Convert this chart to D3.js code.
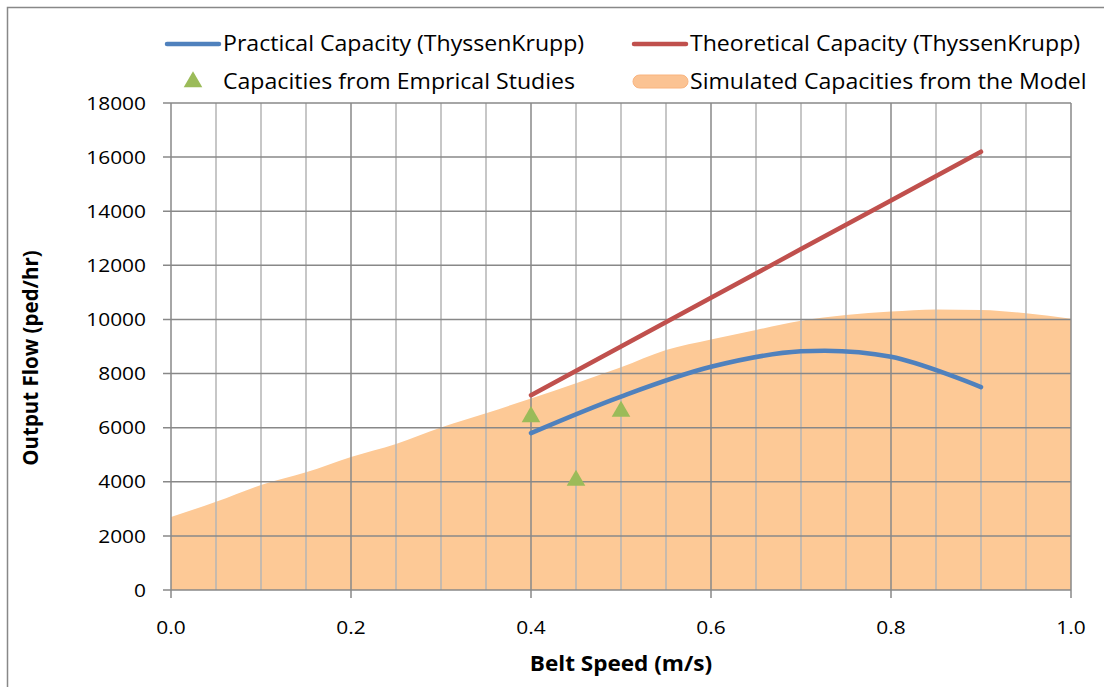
<!DOCTYPE html>
<html><head><meta charset="utf-8">
<script src="https://cdn.jsdelivr.net/npm/d3@7"></script>
<style>body{margin:0;background:#fff}svg{display:block}text{font-family:"Open Sans",sans-serif;fill:#000}</style>
</head><body><svg id="c" width="1104" height="687"></svg>
<script>
const simSpeeds = [0,0.05,0.1,0.15,0.2,0.25,0.3,0.35,0.4,0.45,0.5,0.55,0.6,0.65,0.7,0.75,0.8,0.85,0.9,0.95,1.0];
const simFlow = [2700,3260,3880,4350,4920,5400,6010,6530,7080,7640,8230,8870,9260,9610,9950,10160,10290,10370,10350,10230,10030];
const practSpeeds = [0.4,0.5,0.6,0.7,0.8,0.9];
const practFlow = [5800,7150,8250,8820,8620,7500];
const theorSpeeds = [0.4,0.5,0.6,0.7,0.8,0.9];
const theorFlow = [7200,9000,10800,12600,14400,16200];
const empSpeeds = [0.4,0.45,0.5];
const empFlow = [6400,4050,6600];
const xTicks = [0,0.2,0.4,0.6,0.8,1.0];
const yTicks = [0,2000,4000,6000,8000,10000,12000,14000,16000,18000];
const legendLabels = ["Practical Capacity (ThyssenKrupp)","Theoretical Capacity (ThyssenKrupp)","Capacities from Emprical Studies","Simulated Capacities from the Model"];

const svg = d3.select("#c");
const L=171,R=1071,T=103,B=590;
const SX=1.1;
const x = d3.scaleLinear().domain([0,1]).range([L,R]);
const y = d3.scaleLinear().domain([0,18000]).range([B,T]);

svg.append("rect").attr("x",7.5).attr("y",7.5).attr("width",1110).attr("height",700).attr("fill","none").attr("stroke","#888").attr("stroke-width",1.5);

const simData = simSpeeds.map((s,i)=>({x:s,y:simFlow[i]}));
svg.append("path").datum(simData)
  .attr("d",d3.area().x(d=>x(d.x)).y0(y(0)).y1(d=>y(d.y)).curve(d3.curveMonotoneX))
  .attr("fill","#FDC996");

const minor = d3.range(0,1.0001,0.05).filter(v=>Math.abs(v/0.2-Math.round(v/0.2))>1e-6);
svg.append("g").selectAll("line").data(minor).join("line")
  .attr("x1",d=>x(d)).attr("x2",d=>x(d)).attr("y1",T).attr("y2",B)
  .attr("stroke","#B4B4B4").attr("stroke-width",1.5);
svg.append("g").selectAll("line").data(xTicks).join("line")
  .attr("x1",d=>x(d)).attr("x2",d=>x(d)).attr("y1",T).attr("y2",B+8)
  .attr("stroke","#888").attr("stroke-width",1.5);
svg.append("g").selectAll("line").data(yTicks).join("line")
  .attr("x1",L-8).attr("x2",R).attr("y1",d=>y(d)).attr("y2",d=>y(d))
  .attr("stroke","#888").attr("stroke-width",1.5);

svg.append("g").selectAll("text").data(yTicks).join("text")
  .attr("transform",d=>`translate(146,${y(d)}) scale(${SX},1)`).attr("dy","0.35em").attr("text-anchor","end")
  .attr("font-size",19).text(d=>d);
svg.append("g").selectAll("text").data(xTicks).join("text")
  .attr("transform",d=>`translate(${x(d)},627) scale(${SX},1)`).attr("dy","0.35em").attr("text-anchor","middle")
  .attr("font-size",19).text(d=>d3.format(".1f")(d));
svg.append("text").attr("transform",`translate(621,664) scale(${SX},1)`).attr("dy","0.35em").attr("text-anchor","middle")
  .attr("font-size",20.5).attr("font-weight","bold").text("Belt Speed (m/s)");
svg.append("text").attr("transform","translate(31,358) rotate(-90)").attr("dy","0.35em").attr("text-anchor","middle")
  .attr("font-size",20.5).attr("font-weight","bold").text("Output Flow (ped/hr)");

const line = d3.line().x(d=>x(d.x)).y(d=>y(d.y));
svg.append("path").datum(theorSpeeds.map((s,i)=>({x:s,y:theorFlow[i]})))
  .attr("d",line).attr("fill","none").attr("stroke","#C0504D").attr("stroke-width",4.5).attr("stroke-linecap","round");
svg.append("path").datum(practSpeeds.map((s,i)=>({x:s,y:practFlow[i]})))
  .attr("d",line.curve(d3.curveCatmullRom.alpha(0.5))).attr("fill","none").attr("stroke","#4F81BD").attr("stroke-width",4.5).attr("stroke-linecap","round");

const tri = d3.symbol().type(d3.symbolTriangle).size(150);
svg.append("g").selectAll("path").data(empSpeeds.map((s,i)=>({x:s,y:empFlow[i]}))).join("path")
  .attr("transform",d=>`translate(${x(d.x)},${y(d.y)})`).attr("d",tri).attr("fill","#9BBB59");

const lg = svg.append("g");
lg.append("line").attr("x1",167).attr("x2",219).attr("y1",44).attr("y2",44).attr("stroke","#4F81BD").attr("stroke-width",4.5).attr("stroke-linecap","round");
lg.append("line").attr("x1",634).attr("x2",686).attr("y1",44).attr("y2",44).attr("stroke","#C0504D").attr("stroke-width",4.5).attr("stroke-linecap","round");
lg.append("path").attr("transform","translate(193,82)").attr("d",tri).attr("fill","#9BBB59");
lg.append("rect").attr("x",633).attr("y",75).attr("width",55).attr("height",13).attr("rx",6.5).attr("fill","#FBC393").attr("stroke","#F9B47F").attr("stroke-width",1);
const lx=[223,690,223,690], ly=[44,44,82,82];
lg.selectAll("text").data(legendLabels).join("text")
  .attr("transform",(d,i)=>`translate(${lx[i]},${ly[i]}) scale(${SX},1)`).attr("dy","0.35em").attr("font-size",21).text(d=>d);
</script></body></html>
